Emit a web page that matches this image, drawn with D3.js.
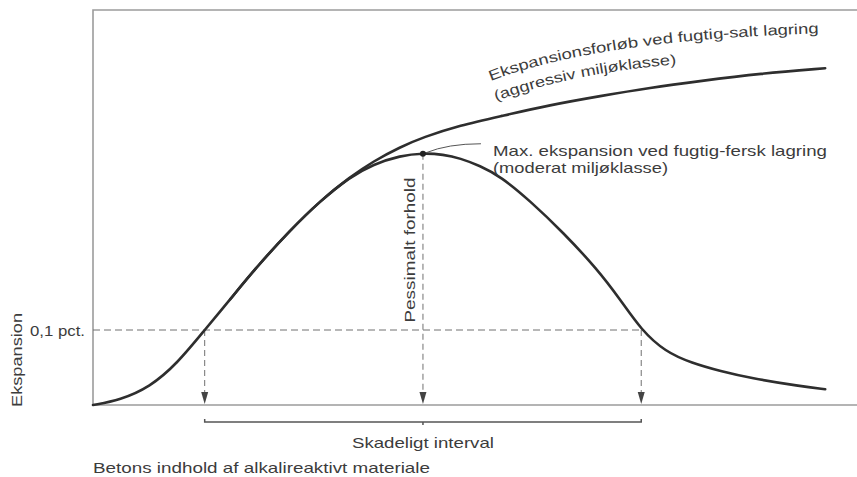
<!DOCTYPE html>
<html><head><meta charset="utf-8">
<script src="https://cdn.jsdelivr.net/npm/d3@7"></script>
<style>
html,body{margin:0;padding:0;background:#fff;}
svg{display:block;font-family:"Liberation Sans",Arial,sans-serif;}
</style></head>
<body><svg id="c" width="857" height="477"></svg>
<script>
// ---- data (x: alkali-reactive content, arbitrary units; y: expansion, pct.) ----
const saltX = [0, 3.7, 7.8, 11.5, 15.3, 18.8, 22.5, 27, 31.1, 35.2, 38.4, 42.1, 45.2, 50.3, 55.8, 62.6, 69.5, 76.3, 83.2, 91.4, 100.3];
const saltY = [0, 0.0067, 0.024, 0.055, 0.1, 0.141, 0.185, 0.233, 0.272, 0.304, 0.325, 0.344, 0.357, 0.373, 0.385, 0.400, 0.412, 0.423, 0.432, 0.442, 0.449];
const freshX = [18.8, 22.5, 27, 31.1, 35.2, 38.4, 42.1, 45.2, 48, 50.3, 53, 55.8, 59.9, 64.4, 69, 72.2, 75.1, 78.4, 82, 86, 90, 96.9, 100.3];
const freshY = [0.141, 0.185, 0.233, 0.272, 0.304, 0.321, 0.3325, 0.336, 0.334, 0.329, 0.319, 0.305, 0.272, 0.230, 0.182, 0.141, 0.1, 0.071, 0.056, 0.045, 0.036, 0.025, 0.021];
const threshold = 0.1;
const thresholdLabel = "0,1 pct.";
const lowX = 15.3, peakX = 45.2, highX = 75.1, peakY = 0.335;
const labels = {
  salt1: "Ekspansionsforløb ved fugtig-salt lagring",
  salt2: "(aggressiv miljøklasse)",
  fresh1: "Max. ekspansion ved fugtig-fersk lagring",
  fresh2: "(moderat miljøklasse)",
  pess: "Pessimalt forhold",
  interval: "Skadeligt interval",
  yTitle: "Ekspansion",
  xTitle: "Betons indhold af alkalireaktivt materiale"
};

(function () {
const svg = d3.select("#c");
const W = 857, mLeft = 93, mTop = 10;
const x = d3.scaleLinear().domain([0, 100]).range([93, 823]);
const y = d3.scaleLinear().domain([0, 0.5]).range([405, 30]);
const base = y(0);

const frame = "#9c9c9c", ink = "#2e2e2e", txt = "#3c3c3c", dash = "#707070";

// frame
svg.append("path").attr("d", `M${W},${mTop}H${mLeft}V${base}H${W}`)
  .attr("fill", "none").attr("stroke", frame).attr("stroke-width", 1.6);

// threshold dashed line
svg.append("line").attr("x1", mLeft).attr("x2", x(highX)).attr("y1", y(threshold)).attr("y2", y(threshold))
  .attr("stroke", dash).attr("stroke-width", 1).attr("stroke-dasharray", "7,4");

// vertical dashed arrows
function arrow(xv, yv) {
  const px = x(xv);
  svg.append("line").attr("x1", px).attr("x2", px).attr("y1", y(yv)).attr("y2", base - 8)
    .attr("stroke", dash).attr("stroke-width", 1).attr("stroke-dasharray", "6,4");
  svg.append("path").attr("d", `M${px - 3.5},${base - 13}L${px + 3.5},${base - 13}L${px},${base - 1}Z`)
    .attr("fill", "#444");
}
arrow(lowX, threshold);
arrow(peakX, peakY);
arrow(highX, threshold);

// curves
const line = d3.line().x(d => x(d[0])).y(d => y(d[1])).curve(d3.curveBasis);
svg.append("path").datum(saltX.map((v, i) => [v, saltY[i]])).attr("d", line)
  .attr("fill", "none").attr("stroke", ink).attr("stroke-width", 2.6).attr("stroke-linecap", "round");
svg.append("path").datum(freshX.map((v, i) => [v, freshY[i]])).attr("d", line)
  .attr("fill", "none").attr("stroke", ink).attr("stroke-width", 2.6).attr("stroke-linecap", "round");

// peak dot and leader
svg.append("circle").attr("cx", x(peakX)).attr("cy", y(peakY)).attr("r", 3).attr("fill", "#222");
svg.append("path").attr("d", `M${x(peakX) + 3},${y(peakY) - 1}Q${x(peakX) + 25},${y(peakY) - 10} ${x(peakX) + 58},${y(peakY) - 10}`)
  .attr("fill", "none").attr("stroke", "#555").attr("stroke-width", 1);

// interval bracket
const by = base + 17;
svg.append("path").attr("d", `M${x(lowX)},${by - 3}V${by}H${x(highX)}V${by - 3}M${x(peakX)},${by}V${by + 3}`)
  .attr("fill", "none").attr("stroke", "#555").attr("stroke-width", 1.5);

// text helper
function label(str, px, py, len, opts = {}) {
  const t = svg.append("text").attr("x", px).attr("y", py).text(str)
    .attr("fill", txt).attr("font-size", opts.size || 14.5)
    .attr("text-anchor", opts.anchor || "start");
  if (len) t.attr("textLength", len).attr("lengthAdjust", "spacingAndGlyphs");
  if (opts.rot) t.attr("transform", `rotate(${opts.rot},${px},${py})`);
  return t;
}
label(labels.fresh1, 493, y(peakY) + 2, 334);
label(labels.fresh2, 493, y(peakY) + 19, 175);
label(labels.interval, x(peakX), base + 43, 142, { anchor: "middle" });
label(labels.xTitle, mLeft, 473, 337);
label(labels.yTitle, 22, 360, 94, { anchor: "middle", rot: -90 });
label(thresholdLabel, 85, y(threshold) + 6, 55, { anchor: "end" });
label(labels.pess, x(peakX) - 8, 250, 145, { anchor: "middle", rot: -90 });

// curved labels for the salt curve
const defs = svg.append("defs");
defs.append("path").attr("id", "p1").attr("d", "M491,81Q595,40 826,33");
defs.append("path").attr("id", "p2").attr("d", "M496,101Q575,72 682,64");
[["p1", labels.salt1, 333], ["p2", labels.salt2, 185]].forEach(([id, s, len]) => {
  svg.append("text").attr("fill", txt).attr("font-size", 14.5)
    .append("textPath").attr("href", "#" + id).attr("textLength", len)
    .attr("lengthAdjust", "spacingAndGlyphs").text(s);
});
})();
</script></body></html>
